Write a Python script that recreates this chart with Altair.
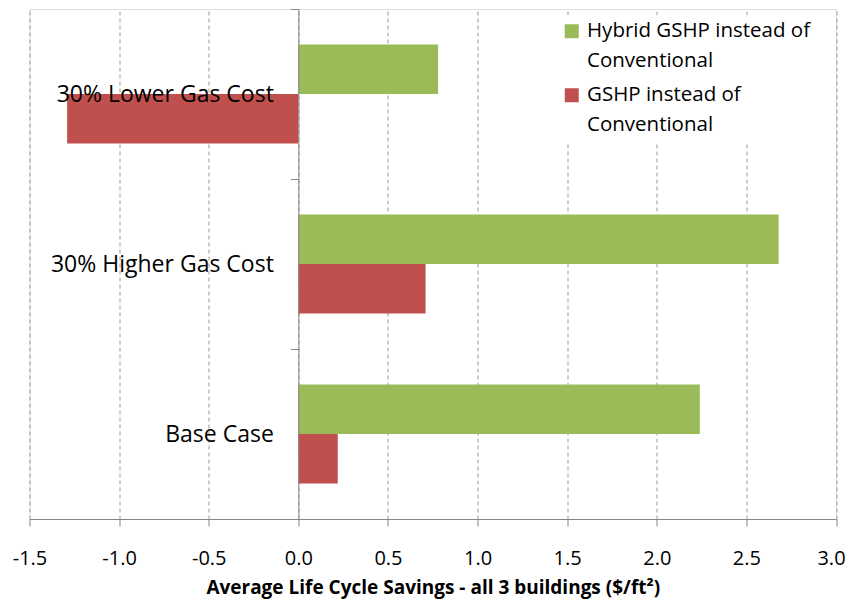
import altair as alt
import pandas as pd

categories = ["30% Lower Gas Cost", "30% Higher Gas Cost", "Base Case"]
series_names = ["Hybrid GSHP instead of Conventional", "GSHP instead of Conventional"]
hybrid_values = [0.78, 2.68, 2.24]
gshp_values = [-1.29, 0.71, 0.22]
x_ticks = [-1.5, -1.0, -0.5, 0.0, 0.5, 1.0, 1.5, 2.0, 2.5, 3.0]
colors = ["#9BBB59", "#C0504D"]

rows = []
for c, h, g in zip(categories, hybrid_values, gshp_values):
    rows.append({"cat": c, "series": series_names[0], "value": h})
    rows.append({"cat": c, "series": series_names[1], "value": g})
df = pd.DataFrame(rows)

W = 806.5
H = 510
FONT = "Open Sans"

label_expr = (
    "datum.label == 'Hybrid GSHP instead of Conventional' ? "
    "['Hybrid GSHP instead of', 'Conventional'] : ['GSHP instead of', 'Conventional']"
)

chart = alt.Chart(df).mark_bar().encode(
    x=alt.X(
        "value:Q",
        scale=alt.Scale(domain=[-1.5, 3.0], nice=False, zero=False),
        axis=alt.Axis(
            values=x_ticks,
            labelExpr="replace(format(datum.value, '.1f'), '\u2212', '-')",
            title="Average Life Cycle Savings - all 3 buildings ($/ft\u00b2)",
            titleFont=FONT,
            titleFontWeight="bold",
            titleFontSize=19,
            titleColor="#000000",
            titlePadding=10,
            labelFont=FONT,
            labelFontSize=20,
            labelColor="#000000",
            labelPadding=22,
            labelFlush=False,
            labelOffset={"condition": {"test": "datum.value == 3", "value": -5}, "value": 0},
            tickSize=7,
            tickColor="#868686",
            domainColor="#868686",
            grid=True,
            gridDash=[4, 3],
            gridColor="#9a9a9a",
        ),
    ),
    y=alt.Y(
        "cat:N",
        sort=categories,
        scale=alt.Scale(domain=categories, paddingInner=0, paddingOuter=0),
        axis=alt.Axis(
            title=None,
            offset=-W / 3,
            tickBand="extent",
            tickSize=8,
            tickColor="#868686",
            domainColor="#868686",
            labelFont=FONT,
            labelFontSize=23,
            labelColor="#000000",
            labelPadding=17,
            labelLimit=400,
            zindex=1,
            grid=False,
        ),
    ),
    yOffset=alt.YOffset(
        "series:N",
        sort=series_names,
        scale=alt.Scale(domain=series_names, paddingInner=0, paddingOuter=0.72),
    ),
    color=alt.Color(
        "series:N",
        sort=series_names,
        scale=alt.Scale(domain=series_names, range=colors),
        legend=alt.Legend(
            title=None,
            orient="none",
            legendX=526,
            legendY=6,
            fillColor="#ffffff",
            padding=6,
            labelFont=FONT,
            labelFontSize=20.5,
            labelColor="#000000",
            labelLimit=400,
            labelOffset=5,
            labelExpr=label_expr,
            symbolType="square",
            symbolSize=196,
            symbolStrokeWidth=0,
            symbolOpacity=1,
            rowPadding=13,
        ),
    ),
).properties(
    width=W,
    height=H,
    autosize=alt.AutoSizeParams(type="none"),
    padding={"left": 21.5, "top": 1, "right": 9, "bottom": 83},
).configure_view(
    stroke="#868686",
    strokeWidth=1,
).configure(
    style={"guide-label": {"lineHeight": 30}},
)

chart.save("out.html", embed_options={"renderer": "svg", "actions": False})
